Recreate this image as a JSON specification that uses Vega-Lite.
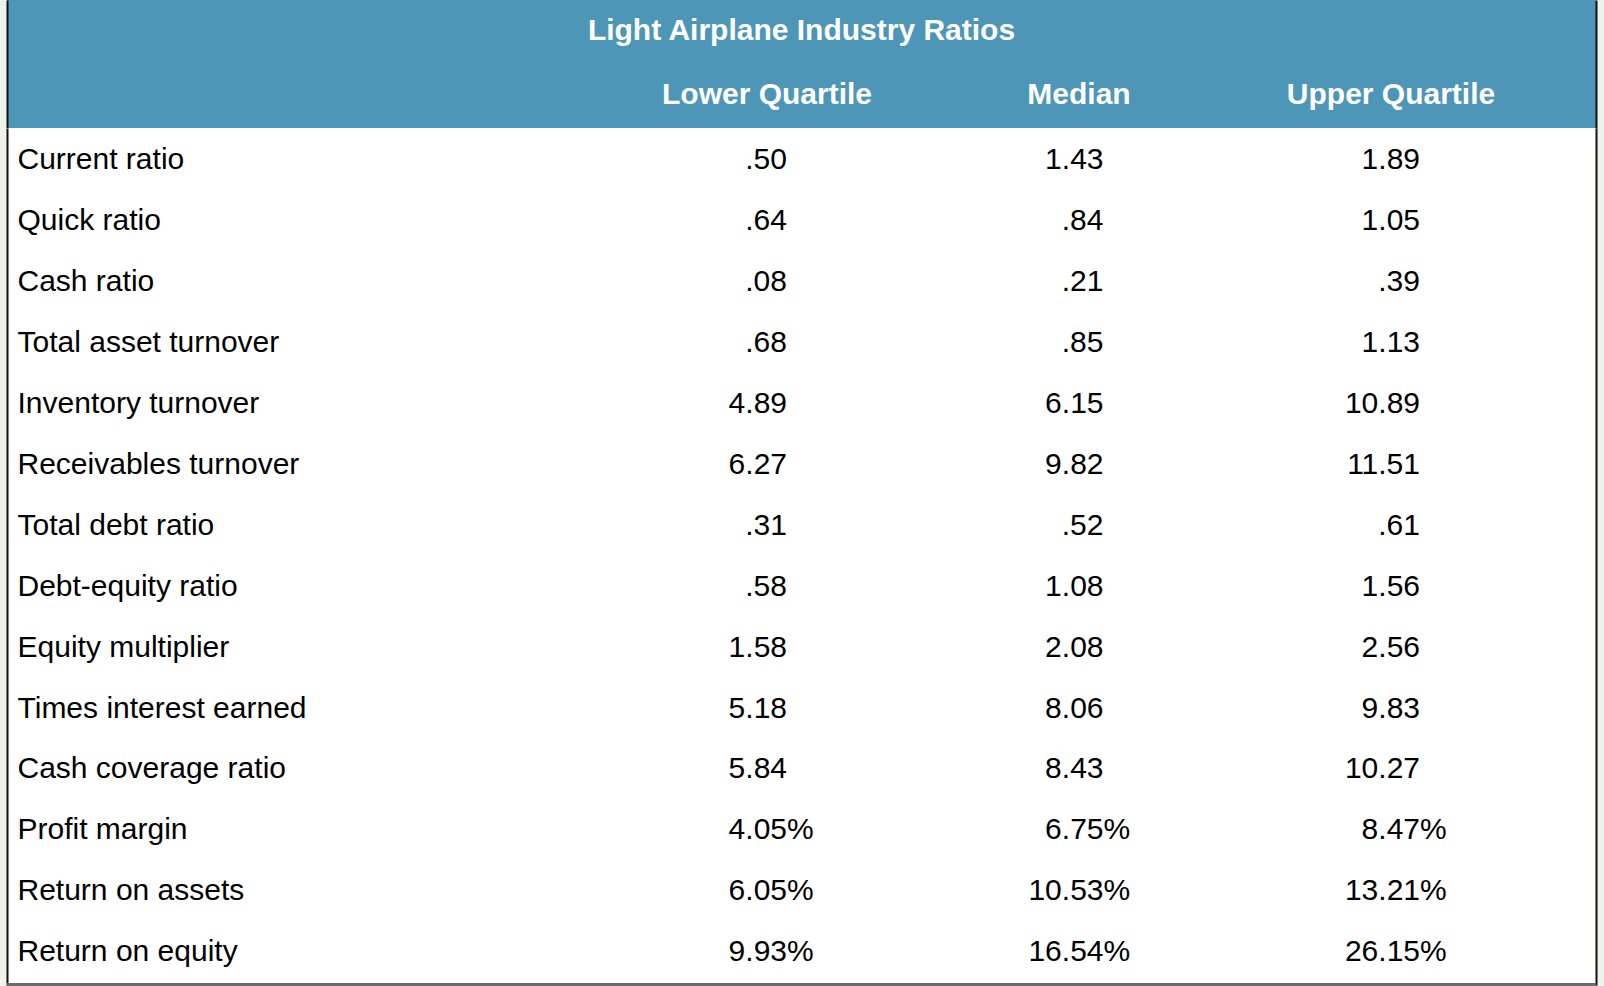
{
  "$schema": "https://vega.github.io/schema/vega-lite/v6.json",
  "background": "#eef3ec",
  "padding": {"left": 5, "right": 8, "top": 0, "bottom": 1},
  "spacing": 0,
  "config": {
    "view": {"stroke": null},
    "font": "Liberation Sans",
    "text": {"font": "Liberation Sans", "fontSize": 30}
  },
  "datasets": {
    "cells": [
      {"row": "Current ratio", "col": "Lower Quartile", "value": ".50", "unit": ""},
      {"row": "Current ratio", "col": "Median", "value": "1.43", "unit": ""},
      {"row": "Current ratio", "col": "Upper Quartile", "value": "1.89", "unit": ""},
      {"row": "Quick ratio", "col": "Lower Quartile", "value": ".64", "unit": ""},
      {"row": "Quick ratio", "col": "Median", "value": ".84", "unit": ""},
      {"row": "Quick ratio", "col": "Upper Quartile", "value": "1.05", "unit": ""},
      {"row": "Cash ratio", "col": "Lower Quartile", "value": ".08", "unit": ""},
      {"row": "Cash ratio", "col": "Median", "value": ".21", "unit": ""},
      {"row": "Cash ratio", "col": "Upper Quartile", "value": ".39", "unit": ""},
      {"row": "Total asset turnover", "col": "Lower Quartile", "value": ".68", "unit": ""},
      {"row": "Total asset turnover", "col": "Median", "value": ".85", "unit": ""},
      {"row": "Total asset turnover", "col": "Upper Quartile", "value": "1.13", "unit": ""},
      {"row": "Inventory turnover", "col": "Lower Quartile", "value": "4.89", "unit": ""},
      {"row": "Inventory turnover", "col": "Median", "value": "6.15", "unit": ""},
      {"row": "Inventory turnover", "col": "Upper Quartile", "value": "10.89", "unit": ""},
      {"row": "Receivables turnover", "col": "Lower Quartile", "value": "6.27", "unit": ""},
      {"row": "Receivables turnover", "col": "Median", "value": "9.82", "unit": ""},
      {"row": "Receivables turnover", "col": "Upper Quartile", "value": "11.51", "unit": ""},
      {"row": "Total debt ratio", "col": "Lower Quartile", "value": ".31", "unit": ""},
      {"row": "Total debt ratio", "col": "Median", "value": ".52", "unit": ""},
      {"row": "Total debt ratio", "col": "Upper Quartile", "value": ".61", "unit": ""},
      {"row": "Debt-equity ratio", "col": "Lower Quartile", "value": ".58", "unit": ""},
      {"row": "Debt-equity ratio", "col": "Median", "value": "1.08", "unit": ""},
      {"row": "Debt-equity ratio", "col": "Upper Quartile", "value": "1.56", "unit": ""},
      {"row": "Equity multiplier", "col": "Lower Quartile", "value": "1.58", "unit": ""},
      {"row": "Equity multiplier", "col": "Median", "value": "2.08", "unit": ""},
      {"row": "Equity multiplier", "col": "Upper Quartile", "value": "2.56", "unit": ""},
      {"row": "Times interest earned", "col": "Lower Quartile", "value": "5.18", "unit": ""},
      {"row": "Times interest earned", "col": "Median", "value": "8.06", "unit": ""},
      {"row": "Times interest earned", "col": "Upper Quartile", "value": "9.83", "unit": ""},
      {"row": "Cash coverage ratio", "col": "Lower Quartile", "value": "5.84", "unit": ""},
      {"row": "Cash coverage ratio", "col": "Median", "value": "8.43", "unit": ""},
      {"row": "Cash coverage ratio", "col": "Upper Quartile", "value": "10.27", "unit": ""},
      {"row": "Profit margin", "col": "Lower Quartile", "value": "4.05", "unit": "%"},
      {"row": "Profit margin", "col": "Median", "value": "6.75", "unit": "%"},
      {"row": "Profit margin", "col": "Upper Quartile", "value": "8.47", "unit": "%"},
      {"row": "Return on assets", "col": "Lower Quartile", "value": "6.05", "unit": "%"},
      {"row": "Return on assets", "col": "Median", "value": "10.53", "unit": "%"},
      {"row": "Return on assets", "col": "Upper Quartile", "value": "13.21", "unit": "%"},
      {"row": "Return on equity", "col": "Lower Quartile", "value": "9.93", "unit": "%"},
      {"row": "Return on equity", "col": "Median", "value": "16.54", "unit": "%"},
      {"row": "Return on equity", "col": "Upper Quartile", "value": "26.15", "unit": "%"}
    ]
  },
  "vconcat": [
    {
      "width": 1589,
      "height": 128,
      "view": {"fill": "#4d96b8", "stroke": null},
      "layer": [
        {
          "data": {"values": [{"row": "title", "text": "Light Airplane Industry Ratios"}]},
          "mark": {"type": "text", "x": {"expr": "width/2"}, "align": "center", "baseline": "middle", "fontWeight": "bold", "color": "#ffffff", "fontSize": 30, "dy": -1.5},
          "encoding": {
            "y": {"field": "row", "type": "nominal", "scale": {"type": "band", "domain": ["title", "header"], "paddingInner": 0, "paddingOuter": 0},
                  "axis": {"orient": "left", "labels": false, "ticks": false, "grid": false, "domain": true, "domainColor": "#111111", "domainWidth": 2, "title": null}},
            "text": {"field": "text"}
          }
        },
        {
          "data": {"values": [{"row": "header", "col": "Lower Quartile"}, {"row": "header", "col": "Median"}, {"row": "header", "col": "Upper Quartile"}]},
          "mark": {"type": "text", "align": "center", "baseline": "middle", "fontWeight": "bold", "color": "#ffffff", "fontSize": 30, "dy": -1},
          "encoding": {
            "x": {"field": "col", "type": "nominal", "scale": {"type": "point", "domain": ["Lower Quartile", "Median", "Upper Quartile"], "range": [760, 1384], "padding": 0}, "axis": null},
            "y": {"field": "row", "type": "nominal", "scale": {"type": "band", "domain": ["title", "header"], "paddingInner": 0, "paddingOuter": 0},
                  "axis": {"orient": "right", "labels": false, "ticks": false, "grid": false, "domain": true, "domainColor": "#111111", "domainWidth": 2, "title": null}},
            "text": {"field": "col"}
          }
        }
      ],
      "resolve": {"axis": {"y": "independent"}}
    },
    {
      "width": 1589,
      "height": 857,
      "view": {"fill": "#ffffff", "stroke": null},
      "layer": [
        {
          "data": {"name": "cells"},
          "mark": {"type": "text", "align": "right", "baseline": "middle", "color": "#000000", "fontSize": 30, "dy": 2},
          "encoding": {
            "x": {"field": "col", "type": "nominal", "scale": {"type": "point", "domain": ["Lower Quartile", "Median", "Upper Quartile"], "range": [780, 1413], "padding": 0}, "axis": null},
            "y": {"field": "row", "type": "nominal", "sort": null,
                  "scale": {"type": "band", "domain": ["Current ratio", "Quick ratio", "Cash ratio", "Total asset turnover", "Inventory turnover", "Receivables turnover", "Total debt ratio", "Debt-equity ratio", "Equity multiplier", "Times interest earned", "Cash coverage ratio", "Profit margin", "Return on assets", "Return on equity"], "paddingInner": 0, "paddingOuter": 0.036, "align": 0},
                  "axis": {"orient": "left", "labelAlign": "left", "labelPadding": -10, "labelOffset": 2, "labelFontSize": 30, "labelFont": "Liberation Sans", "labelColor": "#000000", "labelLimit": 0, "ticks": false, "grid": false, "domain": true, "domainColor": "#111111", "domainWidth": 2, "title": null}},
            "text": {"field": "value"}
          }
        },
        {
          "data": {"name": "cells"},
          "mark": {"type": "text", "align": "left", "baseline": "middle", "color": "#000000", "fontSize": 30, "dy": 2},
          "encoding": {
            "x": {"field": "col", "type": "nominal", "scale": {"type": "point", "domain": ["Lower Quartile", "Median", "Upper Quartile"], "range": [780, 1413], "padding": 0}, "axis": null},
            "y": {"field": "row", "type": "nominal",
                  "scale": {"type": "band", "domain": ["Current ratio", "Quick ratio", "Cash ratio", "Total asset turnover", "Inventory turnover", "Receivables turnover", "Total debt ratio", "Debt-equity ratio", "Equity multiplier", "Times interest earned", "Cash coverage ratio", "Profit margin", "Return on assets", "Return on equity"], "paddingInner": 0, "paddingOuter": 0.036, "align": 0},
                  "axis": {"orient": "right", "labels": false, "ticks": false, "grid": false, "domain": true, "domainColor": "#111111", "domainWidth": 2, "title": null}},
            "text": {"field": "unit"}
          }
        },
        {
          "data": {"values": [{"row": "Return on equity"}]},
          "mark": {"type": "rule", "color": "#6b6b6b", "strokeWidth": 3, "yOffset": 4},
          "encoding": {
            "y": {"field": "row", "type": "nominal", "bandPosition": 1,
                  "scale": {"type": "band", "domain": ["Current ratio", "Quick ratio", "Cash ratio", "Total asset turnover", "Inventory turnover", "Receivables turnover", "Total debt ratio", "Debt-equity ratio", "Equity multiplier", "Times interest earned", "Cash coverage ratio", "Profit margin", "Return on assets", "Return on equity"], "paddingInner": 0, "paddingOuter": 0.036, "align": 0},
                  "axis": null}
          }
        }
      ],
      "resolve": {"axis": {"y": "independent"}}
    }
  ]
}
